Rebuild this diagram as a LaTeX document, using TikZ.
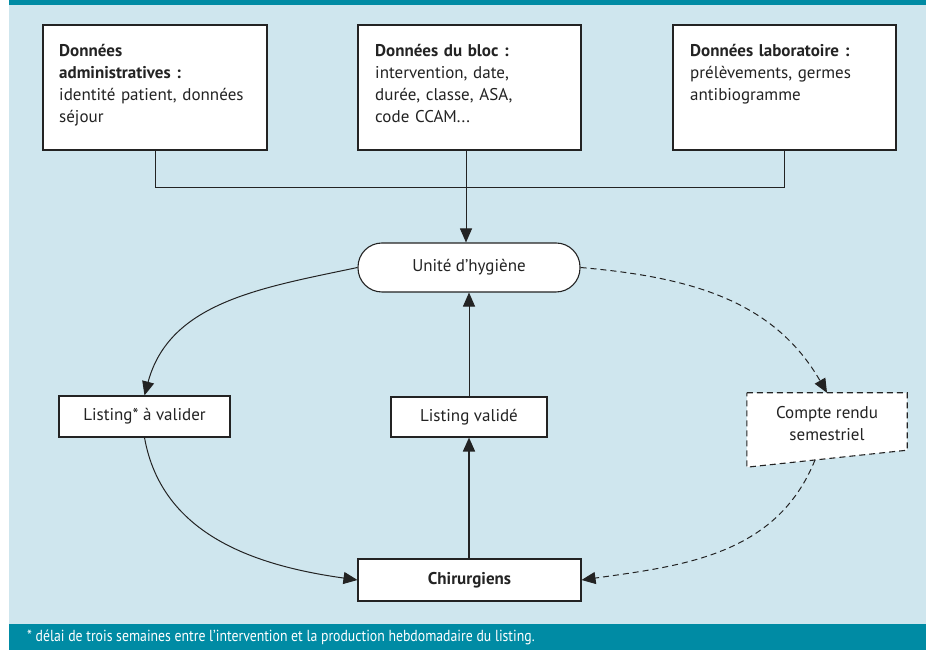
\documentclass[tikz,border=0pt]{standalone}
\usepackage{fontspec}
\setmainfont{PT Sans}
\newfontfamily\condfont[FakeStretch=0.86]{PT Sans}
\usetikzlibrary{arrows.meta,calc}
\definecolor{bgblue}{RGB}{207,230,238}
\definecolor{hdrteal}{RGB}{0,139,164}
\definecolor{linecol}{RGB}{35,35,35}
\begin{document}
\begin{tikzpicture}[x=1pt,y=1pt,
  font=\fontsize{17}{22}\selectfont,
  dbox/.style={draw=linecol, line width=1.1pt, fill=white, inner sep=0pt, text=linecol},
  txt/.style={inner sep=0pt, anchor=north west, align=left, text width=#1, text=linecol},
  conn/.style={draw=linecol, line width=1pt},
  arr/.style={conn, -{Triangle[length=14pt,width=12pt]}},
  dsh/.style={dash pattern=on 6pt off 4pt}
]
\useasboundingbox (0,0) rectangle (933,650);
\fill[white] (0,0) rectangle (933,650);
\fill[bgblue] (9,26) rectangle (926,645);
\fill[hdrteal] (9,645) rectangle (926,650);
\fill[hdrteal] (9,0) rectangle (926,26);

% top boxes
\node[dbox, minimum width=224pt, minimum height=125pt] (adm) at (155,562.5) {};
\node[txt=205pt] (admt) at (59,606) {\textbf{Données}\\\textbf{administratives :}\\identité patient, données\\séjour};
\node[dbox, minimum width=223pt, minimum height=125pt] (bloc) at (469.5,562.5) {};
\node[txt=205pt] (bloct) at (375,606) {\textbf{Données du bloc :}\\intervention, date,\\durée, classe, ASA,\\code CCAM...};
\node[dbox, minimum width=223pt, minimum height=125pt] (labo) at (784.5,562.5) {};
\node[txt=205pt] (labot) at (690,606) {\textbf{Données laboratoire :}\\prélèvements, germes\\antibiogramme};

% central nodes
\node[dbox, rounded corners=24pt, minimum width=222pt, minimum height=49pt] (hyg) at (469,382.5) {Unité d’hygiène};
\node[dbox, minimum width=171pt, minimum height=41pt] (lav) at (144.5,233.5) {Listing* à valider};
\node[dbox, minimum width=156pt, minimum height=40pt] (lv) at (469,233) {Listing validé};
\node[dbox, minimum width=223pt, minimum height=42pt, font=\fontsize{17}{22}\selectfont\bfseries] (chir) at (469.5,70) {Chirurgiens};

% compte rendu (document shape)
\node[inner sep=0pt, minimum width=160pt, minimum height=74pt] (cr) at (827,220) {};
\draw[draw=linecol, line width=1.1pt, fill=white, dsh]
  (cr.north west) -- (cr.north east) -- ($(cr.south east)+(0,17)$) -- (cr.south west) -- cycle;
\node[inner sep=0pt, align=center, text=linecol] (crt) at (827,226) {Compte rendu\\semestriel};
\coordinate (crb) at (815,190);
\coordinate (blocout) at ($(bloc.south)+(-3.5,0)$);

% connectors
\draw[conn] (adm.south) -- ++(0,-37) -| (labo.south);
\draw[arr] (blocout) -- (hyg.north -| blocout);
\draw[arr] (hyg.west) to[out=192,in=75] (lav.north);
\draw[arr] (lav.south) to[out=-80,in=172] (chir.west);
\draw[arr, line width=1.7pt] (chir.north -| lv.south) -- (lv.south);
\draw[arr] (lv.north) -- (hyg.south -| lv.north);
\draw[arr, dsh] (hyg.east) to[out=-5,in=120] (cr.north);
\draw[arr, dsh] (crb) to[out=-112,in=8] (chir.east);

% footer
\node[anchor=west, inner sep=0pt, text=white, font=\condfont\fontsize{16}{18}\selectfont] (foot) at (27,13) {* délai de trois semaines entre l’intervention et la production hebdomadaire du listing.};
\end{tikzpicture}
\end{document}
